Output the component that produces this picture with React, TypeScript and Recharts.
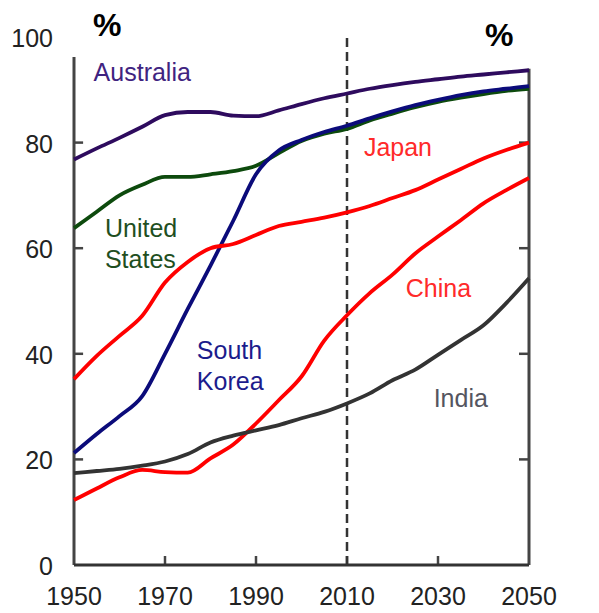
import React from 'react'
import { LineChart, Line, XAxis, YAxis, ReferenceLine, ReferenceDot } from 'recharts'

const years = [1950, 1955, 1960, 1965, 1970, 1975, 1980, 1985, 1990, 1995, 2000, 2005, 2010, 2015, 2020, 2025, 2030, 2035, 2040, 2045, 2050]
const australia = [76.8, 78.9, 80.9, 83.0, 85.2, 85.8, 85.8, 85.1, 85.0, 86.1, 87.3, 88.4, 89.3, 90.2, 90.9, 91.5, 92.0, 92.5, 92.9, 93.3, 93.7]
const unitedStates = [63.8, 66.9, 70.0, 72.0, 73.5, 73.5, 74.0, 74.6, 75.6, 78.0, 80.3, 81.7, 82.6, 84.2, 85.5, 86.7, 87.7, 88.5, 89.2, 89.8, 90.2]
const southKorea = [21.2, 24.8, 28.2, 32.0, 40.0, 48.5, 56.7, 65.2, 74.0, 78.5, 80.5, 82.0, 83.2, 84.6, 85.9, 87.1, 88.1, 89.0, 89.7, 90.2, 90.7]
const japan = [35.2, 39.6, 43.4, 47.2, 53.5, 57.4, 60.0, 60.8, 62.5, 64.2, 65.0, 65.8, 66.8, 68.0, 69.5, 71.0, 73.0, 75.0, 77.0, 78.6, 80.0]
const china = [12.3, 14.5, 16.6, 18.0, 17.6, 17.5, 20.2, 22.8, 26.8, 31.2, 35.7, 42.5, 47.3, 51.5, 55.0, 59.0, 62.2, 65.3, 68.5, 71.0, 73.3]
const india = [17.4, 17.8, 18.2, 18.8, 19.6, 21.0, 23.2, 24.5, 25.5, 26.5, 27.8, 29.0, 30.6, 32.5, 35.0, 37.0, 39.8, 42.6, 45.4, 49.6, 54.3]

const xTicks = [1950, 1970, 1990, 2010, 2030, 2050]
const yTicks = [0, 20, 40, 60, 80, 100]

// series name labels, placed in data units
const seriesLabels = [
  { lines: ['Australia'], year: 1965, value: 93.4, color: '#3f2380', anchor: 'middle' },
  { lines: ['United', 'States'], year: 1956.8, value: 63.8, color: '#1f4f1f', anchor: 'start' },
  { lines: ['Japan'], year: 2021.2, value: 79.1, color: '#ff2a2a', anchor: 'middle' },
  { lines: ['China'], year: 2030.1, value: 52.5, color: '#ff2a2a', anchor: 'middle' },
  { lines: ['South', 'Korea'], year: 1977, value: 40.7, color: '#1c1c8c', anchor: 'start' },
  { lines: ['India'], year: 2035, value: 31.6, color: '#555560', anchor: 'middle' },
]

const data = years.map((year, i) => ({
  year,
  australia: australia[i],
  unitedStates: unitedStates[i],
  southKorea: southKorea[i],
  japan: japan[i],
  china: china[i],
  india: india[i],
}))

const FONT = '"Liberation Sans", Arial, sans-serif'
const TICK_FONT = 25

const LeftTick = (props: any) => (
  <text x={Number(props.x)} y={Number(props.y)} dy={10} textAnchor="end" fontSize={TICK_FONT} fill="#222" fontFamily={FONT}>
    {props.payload.value}
  </text>
)

const RightTick = (props: any) => (
  <text x={Number(props.x)} y={Number(props.y)} dy={10} textAnchor="start" fontSize={TICK_FONT} fill="#222" fontFamily={FONT}>
    {props.payload.value}
  </text>
)

const BottomTick = (props: any) => (
  <text x={Number(props.x)} y={Number(props.y)} dy={18} textAnchor="middle" fontSize={TICK_FONT} fill="#222" fontFamily={FONT}>
    {props.payload.value}
  </text>
)

const NameLabel = ({ viewBox, lines, color, anchor }: any) => {
  const cx = viewBox.x + viewBox.width / 2
  const cy = viewBox.y + viewBox.height / 2
  return (
    <text x={cx} y={cy + 9} textAnchor={anchor} fontSize={25} fill={color} fontFamily={FONT}>
      {lines.map((l: string, i: number) => (
        <tspan key={l} x={cx} dy={i === 0 ? 0 : 31}>{l}</tspan>
      ))}
    </text>
  )
}

const series = [
  { key: 'australia', color: '#2e0b5e' },
  { key: 'unitedStates', color: '#0d4a0d' },
  { key: 'southKorea', color: '#0b0b7a' },
  { key: 'japan', color: '#ff0000' },
  { key: 'china', color: '#ff0000' },
  { key: 'india', color: '#333333' },
]

const innerY = yTicks.filter((v) => v > 0 && v < 100)
const innerX = xTicks.filter((v) => v > 1950 && v < 2050)

const App = () => {
  return (
    <div style={{ position: 'absolute', left: 0, top: 0, width: 599, height: 613, background: '#fff' }}>
      <div style={{ position: 'absolute', left: 93, top: 9, fontSize: 32, lineHeight: 1, fontWeight: 'bold', fontFamily: FONT }}>%</div>
      <div style={{ position: 'absolute', left: 485, top: 19, fontSize: 32, lineHeight: 1, fontWeight: 'bold', fontFamily: FONT }}>%</div>
      <LineChart width={599} height={613} data={data} margin={{ top: 37, right: 10, bottom: 8, left: 14 }}>
        <XAxis
          dataKey="year"
          type="number"
          domain={[1950, 2050]}
          ticks={xTicks}
          height={40}
          tickSize={0}
          tickMargin={22}
          tickLine={false}
          axisLine={{ stroke: '#333', strokeWidth: 3 }}
          tick={<BottomTick />}
        />
        <YAxis
          yAxisId="left"
          domain={[0, 100]}
          ticks={yTicks}
          width={60}
          tickSize={0}
          tickMargin={21}
          tickLine={false}
          axisLine={false}
          tick={<LeftTick />}
        />
        <YAxis
          yAxisId="right"
          orientation="right"
          domain={[0, 100]}
          ticks={yTicks}
          width={60}
          tickSize={0}
          tickMargin={22}
          tickLine={false}
          axisLine={false}
          tick={<RightTick />}
        />
        <ReferenceLine yAxisId="left" segment={[{ x: 1950, y: 0 }, { x: 1950, y: 96.2 }]} stroke="#444" strokeWidth={3} />
        <ReferenceLine yAxisId="left" segment={[{ x: 2050, y: 0 }, { x: 2050, y: 94 }]} stroke="#444" strokeWidth={3} />
        {innerY.map((v) => (
          <ReferenceLine key={'l' + v} yAxisId="left" segment={[{ x: 1950, y: v }, { x: 1952, y: v }]} stroke="#444" strokeWidth={2.5} />
        ))}
        {innerY.map((v) => (
          <ReferenceLine key={'r' + v} yAxisId="left" segment={[{ x: 2047.8, y: v }, { x: 2050, y: v }]} stroke="#444" strokeWidth={2.5} />
        ))}
        {innerX.map((v) => (
          <ReferenceLine key={'b' + v} yAxisId="left" segment={[{ x: v, y: 0 }, { x: v, y: 1.7 }]} stroke="#444" strokeWidth={2.5} />
        ))}
        <ReferenceLine yAxisId="left" x={2010} stroke="#333" strokeWidth={2.5} strokeDasharray="9 5" />
        {series.map((s) => (
          <Line
            key={s.key}
            yAxisId="left"
            type="monotone"
            dataKey={s.key}
            stroke={s.color}
            strokeWidth={3.8}
            dot={false}
            isAnimationActive={false}
          />
        ))}
        {seriesLabels.map((lab) => (
          <ReferenceDot
            key={lab.lines[0]}
            yAxisId="left"
            x={lab.year}
            y={lab.value}
            r={0}
            fill="none"
            stroke="none"
            label={<NameLabel lines={lab.lines} color={lab.color} anchor={lab.anchor} />}
          />
        ))}
      </LineChart>
    </div>
  )
}

export default App
